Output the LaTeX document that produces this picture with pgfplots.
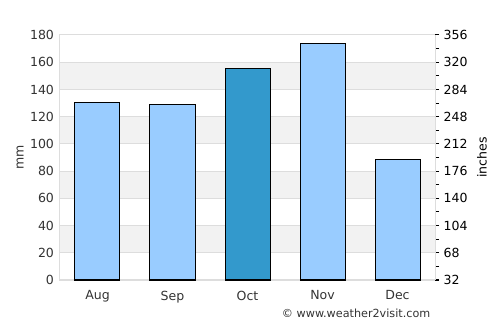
\documentclass[border=0pt]{standalone}
\usepackage{fontspec}
\setmainfont{DejaVu Sans}
\usepackage{pgfplots}
\pgfplotsset{compat=1.18}
\definecolor{gridgray}{HTML}{DDDDDD}
\definecolor{bandgray}{HTML}{F2F2F2}
\definecolor{barlight}{HTML}{99CCFF}
\definecolor{bardark}{HTML}{3399CC}
\definecolor{txt}{HTML}{333333}
\begin{document}
\begin{tikzpicture}
\path[use as bounding box] (-45pt,-33.75pt) rectangle (330pt,210pt);
% background bands
\begin{axis}[
  at={(0,0)}, anchor=south west,
  scale only axis, width=281.25pt, height=183.75pt,
  xmin=-0.5, xmax=4.5, ymin=0, ymax=180,
  hide axis,
]
\addplot[fill=bandgray, draw=none] coordinates {(-0.5,20) (4.5,20) (4.5,40) (-0.5,40)} -- cycle;
\addplot[fill=bandgray, draw=none] coordinates {(-0.5,60) (4.5,60) (4.5,80) (-0.5,80)} -- cycle;
\addplot[fill=bandgray, draw=none] coordinates {(-0.5,100) (4.5,100) (4.5,120) (-0.5,120)} -- cycle;
\addplot[fill=bandgray, draw=none] coordinates {(-0.5,140) (4.5,140) (4.5,160) (-0.5,160)} -- cycle;
\end{axis}
\begin{axis}[
  at={(0,0)}, anchor=south west,
  scale only axis, width=281.25pt, height=183.75pt,
  xmin=-0.5, xmax=4.5, ymin=0, ymax=180,
  xtick={0,1,2,3,4}, xticklabels={Aug,Sep,Oct,Nov,Dec},
  ytick={0,20,...,180},
  ymajorgrids, grid style={gridgray, line width=0.75pt},
  axis line style={gridgray, line width=0.75pt},
  major tick length=0pt,
  /pgf/number format/assume math mode=true,
  tick label style={font=\fontsize{9.4}{11}\selectfont, text=txt},
  yticklabel style={xshift=-1pt},
  xticklabel style={yshift=-4.5pt},
  ybar, bar width=0.6, bar shift=0pt,
]
\addplot[fill=barlight, draw=black, line width=0.75pt] coordinates {(0,130.6) (1,129.3) (3,173.9) (4,88.2)};
\addplot[fill=bardark, draw=black, line width=0.75pt] coordinates {(2,155.5)};
\end{axis}
\begin{axis}[
  at={(0,0)}, anchor=south west,
  scale only axis, width=281.25pt, height=183.75pt,
  xmin=-0.5, xmax=4.5, ymin=32, ymax=356,
  axis x line=none, axis y line*=right,
  axis line style={gridgray, line width=0.75pt},
  ytick={32,68,...,356}, minor y tick num=1,
  tick align=outside, major tick length=3pt, minor tick length=3pt,
  tick style={black, line width=0.75pt},
  /pgf/number format/assume math mode=true,
  tick label style={font=\fontsize{9.4}{11}\selectfont, text=black},
]
\addplot[draw=none] coordinates {(0,32)};
\end{axis}
\node[rotate=90, font=\fontsize{9.4}{11}\selectfont, text=txt] at (-30pt,91.875pt) {mm};
\node[rotate=90, font=\fontsize{9.4}{11}\selectfont, text=black] at (316.5pt,91.875pt) {inches};
\node[anchor=east, font=\fontsize{8.4}{10}\selectfont, text=txt] at (281.25pt,-24.75pt) {© www.weather2visit.com};
\end{tikzpicture}
\end{document}
